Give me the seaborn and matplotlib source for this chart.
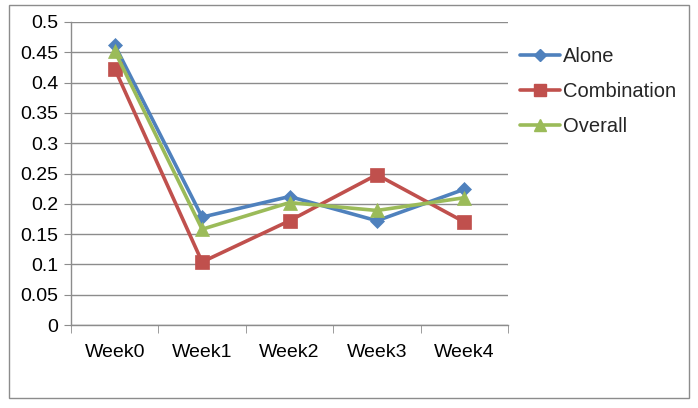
import matplotlib
matplotlib.use("Agg")
import matplotlib.pyplot as plt
import seaborn as sns
import pandas as pd
from matplotlib.lines import Line2D
from matplotlib.patches import Rectangle

weeks = ["Week0", "Week1", "Week2", "Week3", "Week4"]
alone = [0.462, 0.178, 0.212, 0.172, 0.224]
combination = [0.423, 0.104, 0.172, 0.248, 0.170]
overall = [0.452, 0.158, 0.202, 0.189, 0.210]
series_names = ["Alone", "Combination", "Overall"]
y_ticks = [0, 0.05, 0.1, 0.15, 0.2, 0.25, 0.3, 0.35, 0.4, 0.45, 0.5]
y_tick_labels = ["0", "0.05", "0.1", "0.15", "0.2", "0.25", "0.3", "0.35", "0.4", "0.45", "0.5"]

sns.set_style("white")
plt.rcParams['font.family'] = ['Liberation Sans', 'DejaVu Sans']

fig = plt.figure(figsize=(6.98, 4.08), dpi=100)
ax = fig.add_axes([71/698, 1-325/408, (508-71)/698, (325-22)/408])

colors = ["#4F81BD", "#C0504D", "#9BBB59"]
markers = ["D", "s", "^"]
msizes = [7, 9.5, 10]
values = [alone, combination, overall]

handles = []
for name, vals, c, m, ms in zip(series_names, values, colors, markers, msizes):
    df = pd.DataFrame({"week": weeks, "value": vals})
    sns.lineplot(data=df, x="week", y="value", ax=ax, color=c, linewidth=2.6,
                 marker=m, markersize=ms, markeredgecolor=c, markeredgewidth=0.5,
                 sort=False, zorder=3)
    handles.append(Line2D([0], [0], color=c, linewidth=2.6, marker=m,
                          markersize=ms*0.85, markeredgecolor=c))

ax.set_xlim(-0.5, 4.5)
ax.set_ylim(0, 0.5)
ax.set_yticks(y_ticks)
ax.set_yticklabels(y_tick_labels)
ax.set_xticks(range(len(weeks)))
ax.set_xticklabels(weeks)
ax.set_xticks([i - 0.5 for i in range(len(weeks) + 1)], minor=True)
ax.set_xlabel("")
ax.set_ylabel("")
ax.grid(axis="y", color="#8c8c8c", linewidth=1.0)
ax.set_axisbelow(True)
for s in ["top", "right"]:
    ax.spines[s].set_visible(False)
for s in ["left", "bottom"]:
    ax.spines[s].set_color("#8c8c8c")
    ax.spines[s].set_linewidth(1.0)
ax.tick_params(axis="x", which="major", length=0, labelsize=14, pad=14, colors="black")
ax.tick_params(axis="x", which="minor", length=6, color="#8c8c8c", direction="out", bottom=True)
ax.tick_params(axis="y", which="major", length=5, color="#8c8c8c", direction="out", left=True,
               labelsize=14, pad=4, labelcolor="black")

fig.legend(handles, series_names, loc="upper left", bbox_to_anchor=(512/698, 1-39/408),
           frameon=False, fontsize=14.5, handlelength=2.0, handletextpad=0.15,
           labelspacing=0.8, borderaxespad=0)

fig.patches.append(Rectangle((9/698, 1-398/408), (689-9)/698, (398-5)/408,
                             transform=fig.transFigure, fill=False,
                             edgecolor="#8c8c8c", linewidth=1.0))

fig.savefig("out.png", dpi=100)
